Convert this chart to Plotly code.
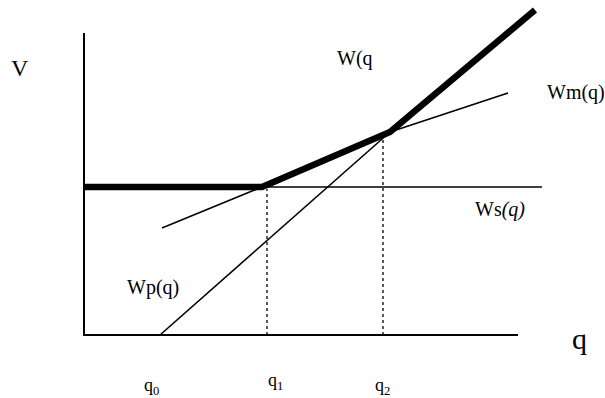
import plotly.graph_objects as go

# diagram coordinates: origin at the corner of the two axes
q_marks = [76, 183, 299]          # q0, q1, q2 on the q axis
q_names = ["q<sub>0</sub>", "q<sub>1</sub>", "q<sub>2</sub>"]
q_label_x = [67, 191, 298]
q_label_y = [-51, -46, -51]
ws_level = 148                    # Ws(q) flat line
ws_end = 458

# thick envelope W(q)
w_q = [0, 178, 306, 451]
w_v = [148, 148, 203, 325]

# thin Wm(q)
wm_q = [78, 178, 306, 424]
wm_v = [107, 148, 203, 242]

# thin Wp(q)
wp_q = [76, 306]
wp_v = [0, 203]

# where the dotted guides stop at the top
guide_top = [146, 195]

axis_len_q = 434
axis_len_v = 302

font = "Liberation Serif, Tinos, Times New Roman, DejaVu Serif, serif"
black = "#000000"

fig = go.Figure()

# axes
fig.add_trace(go.Scatter(x=[0, 0, axis_len_q], y=[axis_len_v, 0, 0], mode="lines",
                         line=dict(color=black, width=2)))
# Ws flat line
fig.add_trace(go.Scatter(x=[0, ws_end], y=[ws_level, ws_level], mode="lines",
                         line=dict(color=black, width=1.6)))
# Wm and Wp
fig.add_trace(go.Scatter(x=wm_q, y=wm_v, mode="lines", line=dict(color=black, width=1.6)))
fig.add_trace(go.Scatter(x=wp_q, y=wp_v, mode="lines", line=dict(color=black, width=1.6)))
# dotted guides at q1 and q2
for qx, top in zip(q_marks[1:], guide_top):
    fig.add_trace(go.Scatter(x=[qx, qx], y=[0, top], mode="lines",
                             line=dict(color=black, width=1.3, dash="dot")))
# thick W(q)
fig.add_trace(go.Scatter(x=w_q, y=w_v, mode="lines", line=dict(color=black, width=6.5)))

labels = [
    ("V", -64, 267, 24, "center"),
    ("W(q", 251, 277, 20, "left"),
    ("Wm(q)", 461, 243, 20, "left"),
    ("Ws<i>(q)</i>", 389, 126, 20, "left"),
    ("Wp(q)", 41, 48, 20, "left"),
    ("q", 495, -3, 30, "center"),
]
for txt, x, y, size, anchor in labels:
    fig.add_annotation(x=x, y=y, text=txt, showarrow=False, xanchor=anchor, yanchor="middle",
                       font=dict(family=font, size=size, color=black))

for name, x, y in zip(q_names, q_label_x, q_label_y):
    fig.add_annotation(x=x, y=y, text=name, showarrow=False,
                       font=dict(family=font, size=18, color=black))

fig.update_layout(
    width=605, height=398,
    margin=dict(l=0, r=0, t=0, b=0),
    paper_bgcolor="white", plot_bgcolor="white",
    showlegend=False,
    hovermode=False,
    font=dict(family=font, color=black),
    xaxis=dict(range=[-84, 521], visible=False, fixedrange=True),
    yaxis=dict(range=[-63, 335], visible=False, fixedrange=True),
)

fig.write_html("out.html", config={"displayModeBar": False},
               post_script="document.body.style.margin='0px';")
